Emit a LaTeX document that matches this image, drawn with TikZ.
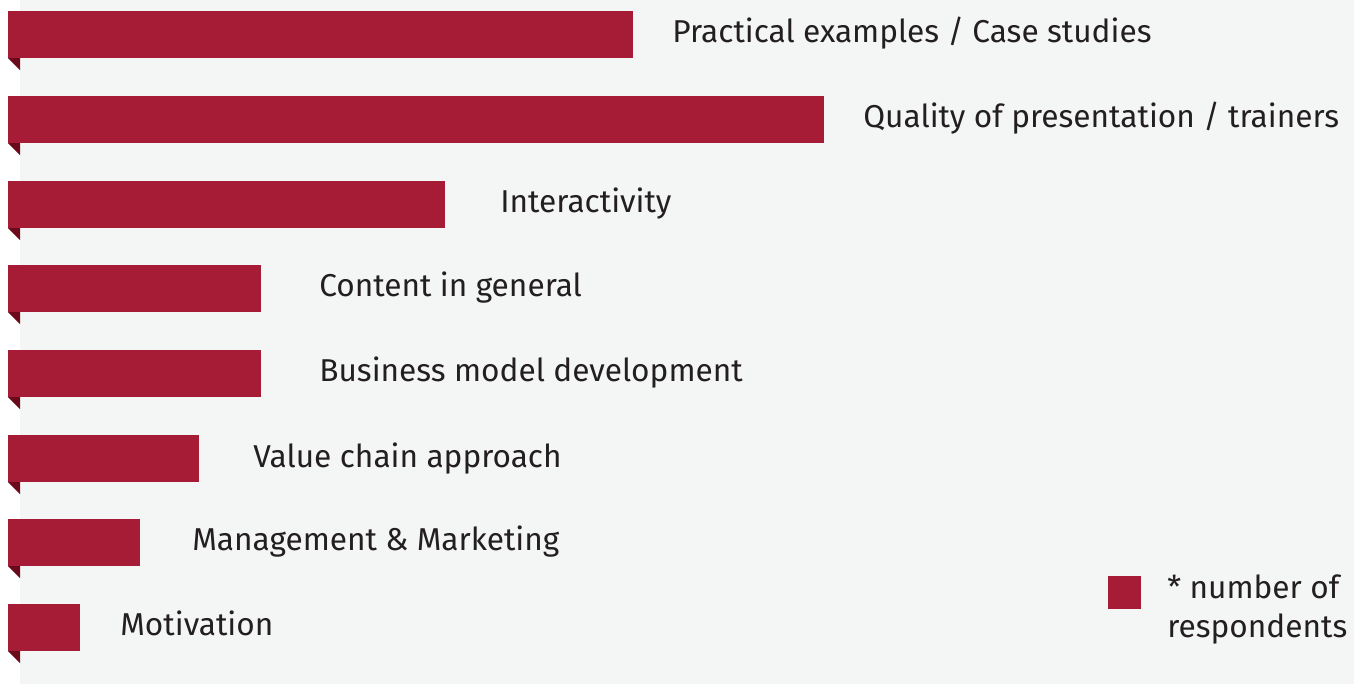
\documentclass[tikz,border=0pt]{standalone}
\usepackage{fontspec}
\setmainfont{Fira Sans}
\definecolor{barred}{HTML}{A61C36}
\definecolor{folddark}{HTML}{6B0A1A}
\definecolor{panelgrey}{HTML}{F4F5F5}
\definecolor{labtext}{HTML}{231F20}
\tikzset{
  bar/.style={fill=barred},
  fold/.style={fill=folddark},
  lab/.style={anchor=base west, inner sep=0pt, text=labtext, font=\fontsize{18}{22.2}\selectfont}
}
\begin{document}
\begin{tikzpicture}[x=0.02cm, y=-0.02cm]
    \useasboundingbox (0,0) rectangle (1354,684);
    \fill [white] (0,0) rectangle (1354,684);
    \fill [panelgrey] (20,0) rectangle (1354,684);
    % bars, top to bottom
    \fill [bar] (8,11) rectangle (633,58);
    \fill [fold] (8,58)--(20,58)--(20,70)--cycle;
    \node [lab] (practical) at (672,42) {Practical examples / Case studies};
    \fill [bar] (8,96) rectangle (824,143);
    \fill [fold] (8,143)--(20,143)--(20,155)--cycle;
    \node [lab] (quality) at (863,127) {Quality of presentation / trainers};
    \fill [bar] (8,181) rectangle (445,228);
    \fill [fold] (8,228)--(20,228)--(20,240)--cycle;
    \node [lab] (interactivity) at (500,212) {Interactivity};
    \fill [bar] (8,265) rectangle (261,312);
    \fill [fold] (8,312)--(20,312)--(20,324)--cycle;
    \node [lab] (content) at (319,296) {Content in general};
    \fill [bar] (8,350) rectangle (261,397);
    \fill [fold] (8,397)--(20,397)--(20,409)--cycle;
    \node [lab] (business) at (319,381) {Business model development};
    \fill [bar] (8,435) rectangle (199,482);
    \fill [fold] (8,482)--(20,482)--(20,494)--cycle;
    \node [lab] (valuechain) at (253,467) {Value chain approach};
    \fill [bar] (8,519) rectangle (140,566);
    \fill [fold] (8,566)--(20,566)--(20,578)--cycle;
    \node [lab] (management) at (192,550) {Management \& Marketing};
    \fill [bar] (8,604) rectangle (80,651);
    \fill [fold] (8,651)--(20,651)--(20,663)--cycle;
    \node [lab] (motivation) at (120,635) {Motivation};
    % legend
    \fill [bar] (1108,576) rectangle (1141,609);
    \node [lab, align=left] (legend) at (1167,637) {* number of\\respondents};
\end{tikzpicture}
\end{document}
